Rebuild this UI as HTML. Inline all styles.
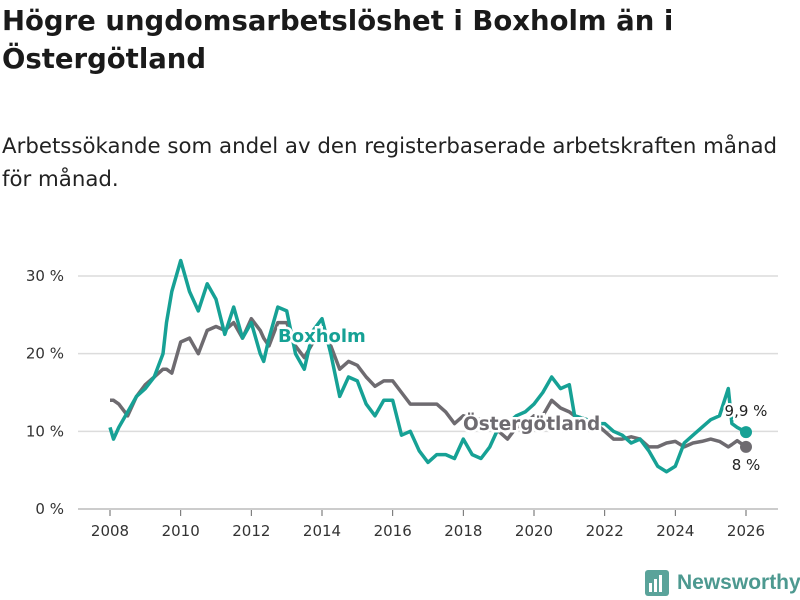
<!DOCTYPE html>
<html><head><meta charset="utf-8"><style>
body{margin:0;background:#fff;font-family:"DejaVu Sans","Liberation Sans",sans-serif;width:800px;height:600px;overflow:hidden;position:relative}
h1{position:absolute;left:2px;top:2px;margin:0;font-size:27.5px;line-height:38px;font-weight:bold;color:#1a1a1a;white-space:nowrap}
p{position:absolute;left:2px;top:130px;margin:0;font-size:21.3px;line-height:33px;color:#222;white-space:nowrap}
svg{position:absolute;left:0;top:0}
</style></head><body>
<h1>Högre ungdomsarbetslöshet i Boxholm än i<br>Östergötland</h1>
<p>Arbetssökande som andel av den registerbaserade arbetskraften månad<br>för månad.</p>
<svg id="c" width="800" height="600"></svg>
<script>
const years=[2008,2008.1,2008.25,2008.5,2008.75,2009,2009.25,2009.5,2009.6,2009.75,2010,2010.25,2010.5,2010.75,2011,2011.25,2011.5,2011.75,2012,2012.25,2012.35,2012.5,2012.75,2013,2013.25,2013.5,2013.75,2014,2014.25,2014.5,2014.75,2015,2015.25,2015.5,2015.75,2016,2016.25,2016.5,2016.75,2017,2017.25,2017.5,2017.75,2018,2018.25,2018.5,2018.75,2019,2019.25,2019.5,2019.75,2020,2020.25,2020.5,2020.75,2021,2021.15,2021.5,2021.75,2022,2022.25,2022.5,2022.75,2023,2023.25,2023.5,2023.75,2024,2024.25,2024.5,2024.75,2025,2025.25,2025.5,2025.6,2025.75,2026];
const boxholm=[10.5,9,10.5,12.5,14.5,15.5,17,20,24,28,32,28,25.5,29,27,22.5,26,22,24,20,19,22,26,25.5,20,18,23,24.5,20,14.5,17,16.5,13.5,12,14,14,9.5,10,7.5,6,7,7,6.5,9,7,6.5,8,10.5,11,12,12.5,13.5,15,17,15.5,16,12,11.5,11,11,10,9.5,8.5,9,7.5,5.5,4.8,5.5,8.5,9.5,10.5,11.5,12,15.5,11,10.5,9.9];
const ostergotland=[14,14,13.5,12,14.5,16,17,18,18,17.5,21.5,22,20,23,23.5,23,24,22,24.5,23,22,21,24,24,21,19.5,21.5,22,21,18,19,18.5,17,15.8,16.5,16.5,15,13.5,13.5,13.5,13.5,12.5,11,12,11.7,11.5,11,10,9,10.5,11,12,12,14,13,12.5,12,11.5,11,10,9,9,9.3,9,8,8,8.5,8.7,8,8.5,8.7,9,8.7,8,8.3,8.8,8];
const yTicks=[0,10,20,30];
const xTicks=[2008,2010,2012,2014,2016,2018,2020,2022,2024,2026];
const NS='http://www.w3.org/2000/svg',svg=document.getElementById('c');
const X=v=>110+(v-2008)*(746-110)/18, Y=v=>509-v*(509-276)/30;
function mk(t,a,txt){const e=document.createElementNS(NS,t);for(const k in a)e.setAttribute(k,a[k]);if(txt!=null)e.textContent=txt;svg.appendChild(e);return e;}
yTicks.forEach(v=>{
 const l=mk('line',{x1:78,x2:778,y1:Y(v),y2:Y(v),stroke:v?'#dcdcdc':'#bbb','stroke-width':1.5});
 
 
 const t=mk('text',{x:64,y:Y(v)+5,'text-anchor':'end','font-size':15,fill:'#333'},v+' %');
 
 
});
xTicks.forEach(v=>{
 const l=mk('line',{x1:X(v),x2:X(v),y1:510,y2:516,stroke:'#666','stroke-width':1});
 
 
 const t=mk('text',{x:X(v),y:536,'text-anchor':'middle','font-size':15,fill:'#333'},v);
 
 
});
function line(data,col,name){
 const d=data.map((v,i)=>(i?'L':'M')+X(years[i]).toFixed(1)+','+Y(v).toFixed(1)).join('');
 const p=mk('path',{d:d,fill:'none',stroke:col,'stroke-width':3.5,'stroke-linejoin':'round'});
 
 
 const n=data.length-1;
 const c=mk('circle',{cx:X(years[n]),cy:Y(data[n]),r:6,fill:col});
 
 
}
line(ostergotland,'#6e6b70','ostergotland-line');
line(boxholm,'#16a195','boxholm-line');
const lb=mk('text',{x:278,y:342,'font-size':18,'font-weight':'bold',fill:'#16a195',stroke:'#fff','stroke-width':5,'paint-order':'stroke'},'Boxholm');


const lo=mk('text',{x:463,y:430,'font-size':18.5,'font-weight':'bold',fill:'#6e6b70',stroke:'#fff','stroke-width':5,'paint-order':'stroke'},'Östergötland');


const v1=mk('text',{x:746,y:416,'text-anchor':'middle','font-size':15,fill:'#222',stroke:'#fff','stroke-width':4,'paint-order':'stroke'},'9,9 %');


const v2=mk('text',{x:746,y:470,'text-anchor':'middle','font-size':15,fill:'#222'},'8 %');


</script>
<div style="position:absolute;left:645px;top:570px;display:flex;align-items:center">
<svg width="24" height="26" style="position:static"><rect x="0" y="0" width="24" height="26" rx="3" fill="#5aa39a"/><rect x="4" y="13" width="3" height="9" fill="#fff"/><rect x="9" y="9" width="3" height="13" fill="#fff"/><rect x="14" y="5" width="3" height="17" fill="#fff"/></svg>
<span style="margin-left:8px;font-family:'Liberation Sans',sans-serif;font-size:21px;font-weight:bold;color:#4d9990">Newsworthy</span></div>
</body></html>
